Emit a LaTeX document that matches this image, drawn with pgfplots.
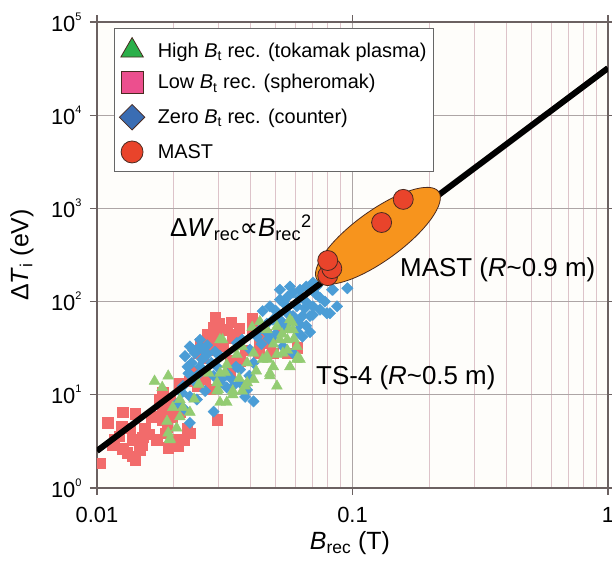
\documentclass[border=0pt]{standalone}
\usepackage{fontspec}
\setmainfont{Liberation Sans}
\newfontfamily\djv{DejaVu Sans}
\usepackage{pgfplots}
\pgfplotsset{compat=1.18}
\definecolor{sqred}{HTML}{F26B6B}
\definecolor{dblue}{HTML}{4B9DD6}
\definecolor{tgreen}{HTML}{93CC72}
\definecolor{lgreen}{HTML}{2BB04A}
\definecolor{lpink}{HTML}{EC4F8E}
\definecolor{lblue}{HTML}{3A6DB3}
\definecolor{mastred}{HTML}{E9442B}
\definecolor{ellorange}{HTML}{F7941D}
\definecolor{gridmaj}{HTML}{ADA5A5}
\definecolor{gridmin}{HTML}{DDC3C9}
\definecolor{axcol}{HTML}{6B6161}
\definecolor{edgecol}{HTML}{4A2A20}
\definecolor{bgcol}{HTML}{FEFDFA}

\pgfdeclareplotmark{mastellipse}{%
  \pgfpathellipse{\pgfpointorigin}{\pgfpoint{60.7bp}{44.1bp}}{\pgfpoint{-14.6bp}{20.1bp}}%
  \pgfusepathqfillstroke}

\newcommand\tp[1]{10\raisebox{11bp}{\fontsize{11}{11}\selectfont #1}}

\begin{document}
\begin{tikzpicture}
\begin{axis}[
  xmode=log, ymode=log,
  scale only axis, width=511bp, height=466bp,
  xmin=0.01, xmax=1, ymin=1, ymax=1e5,
  axis background/.style={fill=bgcol},
  clip marker paths=true,
  xtick={0.01,0.1,1}, xticklabels={0.01,0.1,1},
  ytick={1,10,100,1000,10000,100000},
  yticklabels={\tp{0},\tp{1},\tp{2},\tp{3},\tp{4},\tp{5}},
  ticklabel style={font=\fontsize{22}{24}\selectfont},
  xticklabel style={yshift=-9bp},
  yticklabel style={xshift=-5bp},
  tick align=outside, major tick length=7bp, minor tick length=0pt,
  tick style={line width=1.2bp, color=axcol},
  axis line style={line width=1.5bp, color=axcol},
  xmajorgrids, xminorgrids, ymajorgrids,
  major grid style={line width=1.2bp, color=gridmaj},
  minor grid style={line width=0.9bp, color=gridmin},
  ylabel={Δ\textit{T}\textsubscript{i} (eV)},
  xlabel={\textit{B}\textsubscript{rec} (T)},
  every axis y label/.style={at={(axis description cs:-0.147,0.5)}, rotate=90, anchor=center, font=\fontsize{25}{28}\selectfont},
  every axis x label/.style={at={(axis description cs:0.495,-0.118)}, anchor=center, font=\fontsize{25}{28}\selectfont},
  legend style={at={(0.033,0.987)}, anchor=north west, draw=gray!80!black, line width=1bp,
    fill=white, font=\fontsize{20}{23}\selectfont, row sep=11bp, column sep=11bp, inner xsep=5bp, inner ysep=9bp},
  legend cell align=left,
  legend image code/.code={\draw[#1] plot coordinates {(0.3cm,0cm)};},
]
% legend entries
\addlegendimage{only marks, mark=triangle*, mark size=13bp, mark options={fill=lgreen, draw=edgecol, line width=0.8bp}}
\addlegendentry{High \textit{B}\textsubscript{t} rec. (tokamak plasma)}
\addlegendimage{only marks, mark=square*, mark size=11bp, mark options={fill=lpink, draw=edgecol, line width=0.8bp}}
\addlegendentry{Low \textit{B}\textsubscript{t} rec. (spheromak)}
\addlegendimage{only marks, mark=square*, mark size=9bp, mark options={rotate=45, fill=lblue, draw=edgecol, line width=0.8bp}}
\addlegendentry{Zero \textit{B}\textsubscript{t} rec. (counter)}
\addlegendimage{only marks, mark=*, mark size=11bp, mark options={fill=mastred, draw=edgecol, line width=0.8bp}}
\addlegendentry{MAST}

% Low Bt (spheromak) - red squares
\addplot[forget plot, only marks, mark=square*, mark size=5.2bp, mark options={fill=sqred, draw=sqred}] coordinates {
(0.0103,1.85) (0.0110,5.0) (0.0126,6.5) (0.0126,2.65) (0.0141,6.3) (0.0135,4.4)
(0.0151,3.5) (0.0138,3.3) (0.0147,2.55) (0.0141,2.0) (0.0154,4.4) (0.0122,3.6)
(0.0137,2.2) (0.0117,3.3) (0.0131,2.4) (0.0176,8.9) (0.0180,5.4) (0.0188,4.5)
(0.0190,2.7) (0.0207,3.3) (0.0211,6.5) (0.0225,4.4) (0.0231,3.9) (0.0211,13.3)
(0.0193,8.9) (0.0265,14.6) (0.0277,11.4) (0.0260,25) (0.0290,67) (0.0286,53)
(0.0322,50) (0.0353,44) (0.0295,39) (0.0282,30) (0.0311,33) (0.0404,66)
(0.0363,23) (0.0332,23.5) (0.0434,37) (0.0475,36) (0.0520,48) (0.0556,28)
(0.0606,32) (0.0295,5.4) (0.0248,12.4) (0.0171,3.3) (0.0185,3.9) (0.0253,36)
(0.0332,17) (0.0198,6.9) (0.0164,5.8) (0.0488,28) (0.0181,6.9) (0.0181,10.6)
(0.0197,2.9) (0.0197,5.8) (0.0290,50) (0.0317,50) (0.0274,39) (0.0404,50)
(0.0340,41) (0.0380,30) (0.0225,4.2) (0.0220,3.3) (0.0207,2.8) (0.0240,18)
(0.0300,58) (0.0335,60) (0.0360,52) (0.0270,45) (0.0250,28) (0.0230,14)
(0.0160,3.8) (0.0150,2.9) (0.0125,4.6) (0.0115,2.9) (0.0430,28) (0.0460,44)
};
% Zero Bt (counter) - blue diamonds
\addplot[forget plot, only marks, mark=square*, mark size=4bp, mark options={rotate=45, fill=dblue, draw=dblue}] coordinates {
(0.0231,33) (0.0242,28) (0.0253,33) (0.0235,22) (0.0253,20) (0.0270,27)
(0.0246,16) (0.0265,11) (0.0286,16) (0.0303,13.5) (0.0322,12) (0.0340,12.3)
(0.0363,13.5) (0.0387,11.3) (0.0410,8.5) (0.0286,6.6) (0.0231,5.0) (0.0363,18.6)
(0.0397,30.5) (0.0370,39) (0.0353,36) (0.0423,42) (0.0445,79) (0.0475,89)
(0.0520,105) (0.0556,112) (0.0585,125) (0.0623,134) (0.0659,145) (0.0700,160)
(0.0520,134) (0.0569,145) (0.0606,89) (0.0659,99) (0.0700,89) (0.0746,82)
(0.0794,75) (0.0838,134) (0.0682,70) (0.0556,75) (0.0488,64) (0.0462,58)
(0.0623,110) (0.0434,50) (0.0253,39) (0.0270,34) (0.0303,26) (0.0322,17)
(0.0217,12.4) (0.0231,9.6) (0.0246,8.9) (0.0832,134) (0.0955,139) (0.0870,89)
(0.0724,145) (0.0746,110) (0.0816,75) (0.0700,72) (0.0637,70) (0.0585,70)
(0.0623,57) (0.0659,55) (0.0637,42) (0.0606,48) (0.0682,47) (0.0534,33)
(0.0585,28) (0.0520,64) (0.0462,47) (0.0207,8.2) (0.0215,10.5) (0.0220,7.0)
(0.0380,9.5) (0.0221,26) (0.0226,20) (0.0410,22) (0.0500,80) (0.0540,95)
(0.0238,30) (0.0258,24) (0.0262,30) (0.0280,22) (0.0295,20) (0.0310,15)
(0.0240,14) (0.0228,17) (0.0290,29) (0.0335,15) (0.0350,20) (0.0395,16)
(0.0440,35) (0.0470,40) (0.0500,45) (0.0545,55) (0.0600,65) (0.0650,85)
(0.0720,120) (0.0780,100)
};
% High Bt (tokamak) - green triangles
\addplot[forget plot, only marks, mark=triangle*, mark size=6.3bp, mark options={fill=tgreen, draw=tgreen}] coordinates {
(0.0190,15.9) (0.0168,14) (0.0188,5.2) (0.0193,3.3) (0.0190,3.9) (0.0211,8.9)
(0.0217,7.3) (0.0231,6.5) (0.0211,5.8) (0.0303,39) (0.0303,17) (0.0295,13.5)
(0.0295,11) (0.0303,8.3) (0.0322,21) (0.0340,11) (0.0370,11) (0.0387,13.5)
(0.0410,14.6) (0.0410,28) (0.0370,33) (0.0434,61) (0.0462,50) (0.0506,54)
(0.0520,39) (0.0534,28) (0.0569,64) (0.0585,50) (0.0569,20) (0.0606,24)
(0.0556,39) (0.0475,17) (0.0506,12.4) (0.0445,24) (0.0387,22) (0.0353,27)
(0.0270,18) (0.0322,8.3) (0.0340,10) (0.0462,26) (0.0506,27) (0.0580,60)
(0.0562,50) (0.0606,33) (0.0556,30) (0.0610,25) (0.0475,16) (0.0623,24)
(0.0205,4.4) (0.0193,3.4) (0.0198,7.3) (0.0298,11.4) (0.0380,12.4) (0.0467,24)
(0.0274,17) (0.0317,17.5) (0.0405,53) (0.0310,39)
(0.0490,35) (0.0530,45) (0.0590,40) (0.0490,20) (0.0420,18) (0.0360,15)
(0.0250,13) (0.0240,9) (0.0180,12)
};
% scaling line
\addplot[forget plot, black, line width=6bp] coordinates {(0.01,2.5) (1,32000)};
% MAST region
\addplot[forget plot, only marks, mark=mastellipse, mark options={fill=ellorange, draw=edgecol, line width=0.8bp}] coordinates {(0.1258,508)};
% MAST points
\addplot[forget plot, only marks, mark=*, mark size=10bp, mark options={fill=mastred, draw=edgecol, line width=0.8bp}] coordinates {
(0.158,1250) (0.130,706) (0.080,190) (0.083,226) (0.080,276)
};
\node[anchor=west, font=\fontsize{26}{29}\selectfont, inner sep=0pt] at (axis cs:0.0193,620)
  {Δ\textit{W}\textsubscript{rec}{\djv ∝}\textit{B}\textsubscript{rec}\textsuperscript{2}};
\node[anchor=west, font=\fontsize{26}{29}\selectfont, inner sep=0pt] at (axis cs:0.1535,220)
  {MAST (\textit{R}\textasciitilde 0.9 m)};
\node[anchor=west, font=\fontsize{26}{29}\selectfont, inner sep=0pt] at (axis cs:0.0720,15.3)
  {TS-4 (\textit{R}\textasciitilde 0.5 m)};
\end{axis}
\pgfresetboundingbox
\path[use as bounding box] ([xshift=-97bp,yshift=-73bp]current axis.south west) rectangle ([xshift=4bp,yshift=22bp]current axis.north east);
\end{tikzpicture}
\end{document}
